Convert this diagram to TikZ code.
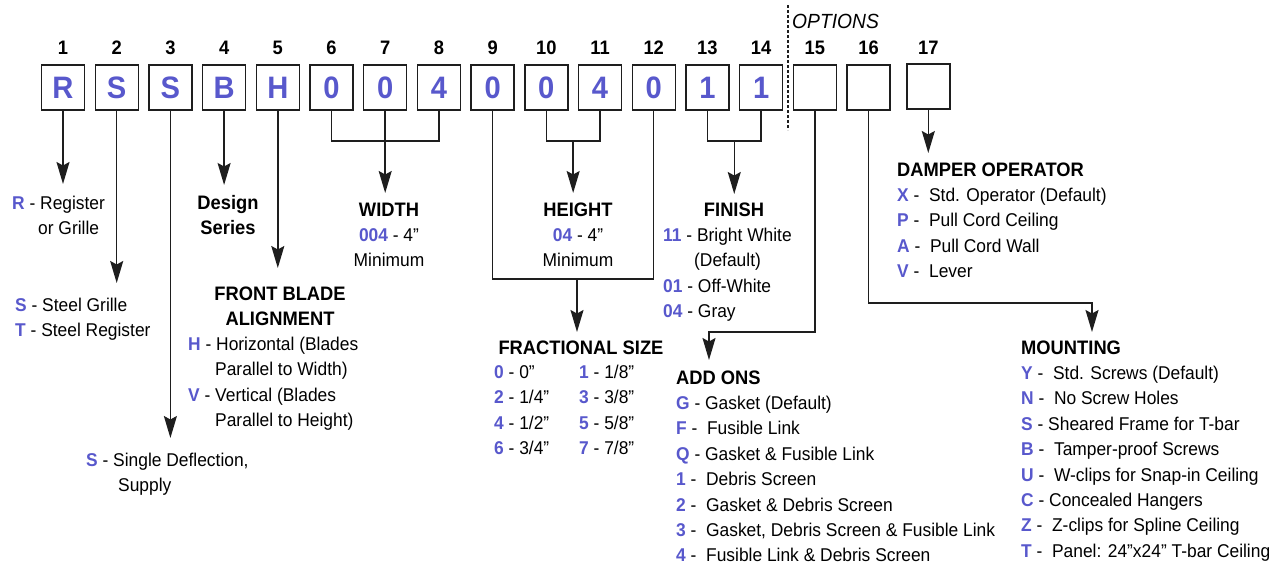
\documentclass[tikz,border=0pt]{standalone}
\usepackage{fontspec}
\setmainfont{Liberation Sans}[FakeStretch=0.94]
\usetikzlibrary{arrows.meta}
\definecolor{cblue}{RGB}{88,88,204}
\definecolor{cline}{RGB}{30,30,30}
\newcommand\bodyf{\fontsize{18.5}{25.4}\selectfont}
\newcommand\headf{\fontsize{19.5}{25.4}\selectfont\bfseries}
\newcommand\kc[1]{\textcolor{cblue}{\textbf{#1}}}
\begin{document}
\begin{tikzpicture}[x=1pt,y=-1pt,
  cbox/.style={draw=cline,line width=1.4pt,minimum width=43pt,minimum height=45pt,inner sep=0pt,
    text=cblue,font=\fontsize{31}{31}\selectfont\bfseries},
  num/.style={anchor=base,inner sep=0pt,font=\fontsize{19.5}{20}\selectfont\bfseries},
  ln/.style={draw=cline,line width=1.5pt},
  arr/.style={ln,-{Stealth[length=22pt,width=13pt,inset=3.5pt]}},
  lst/.style={anchor=base west,inner sep=0pt,font=\bodyf},
  ctr/.style={anchor=base,inner sep=0pt,font=\bodyf}]
\fill[white] (0,0) rectangle (1278,562);
\useasboundingbox (0,0) rectangle (1278,562);

% code boxes
\node[cbox] (b1)  at (63,87.5)    {R};
\node[cbox] (b2)  at (116.7,87.5) {S};
\node[cbox] (b3)  at (170.4,87.5) {S};
\node[cbox] (b4)  at (224.1,87.5) {B};
\node[cbox] (b5)  at (277.8,87.5) {H};
\node[cbox] (b6)  at (331.5,87.5) {0};
\node[cbox] (b7)  at (385.2,87.5) {0};
\node[cbox] (b8)  at (438.9,87.5) {4};
\node[cbox] (b9)  at (492.6,87.5) {0};
\node[cbox] (b10) at (546.3,87.5) {0};
\node[cbox] (b11) at (600,87.5)   {4};
\node[cbox] (b12) at (653.7,87.5) {0};
\node[cbox] (b13) at (707.4,87.5) {1};
\node[cbox] (b14) at (761.1,87.5) {1};
\node[cbox] (b15) at (814.8,87.5) {};
\node[cbox] (b16) at (868.5,87.5) {};
\node[cbox] (b17) at (928.3,86.5) {};

% position numbers
\node[num] (n1)  at (63,54)    {1};
\node[num] (n2)  at (116.7,54) {2};
\node[num] (n3)  at (170.4,54) {3};
\node[num] (n4)  at (224.1,54) {4};
\node[num] (n5)  at (277.8,54) {5};
\node[num] (n6)  at (331.5,54) {6};
\node[num] (n7)  at (385.2,54) {7};
\node[num] (n8)  at (438.9,54) {8};
\node[num] (n9)  at (492.6,54) {9};
\node[num] (n10) at (546.3,54) {10};
\node[num] (n11) at (600,54)   {11};
\node[num] (n12) at (653.7,54) {12};
\node[num] (n13) at (707.4,54) {13};
\node[num] (n14) at (761.1,54) {14};
\node[num] (n15) at (814.8,54) {15};
\node[num] (n16) at (868.5,54) {16};
\node[num] (n17) at (928.3,54) {17};

% options separator
\coordinate (dtop) at (788,5);
\coordinate (dbot) at (788,130);
\draw[cline,line width=1.2pt,dash pattern=on 3pt off 2pt] (dtop) -- (dbot);
\node[anchor=base west,inner sep=0pt,font=\fontsize{20.5}{21}\selectfont\itshape] (opt) at (792,28) {OPTIONS};

% connector coordinates
\coordinate (t1) at (63,184);
\coordinate (t2) at (116.7,283);
\coordinate (t3) at (170.4,438);
\coordinate (t4) at (224.1,185);
\coordinate (t5) at (277.8,268);
\coordinate (j68) at (385.2,141);
\coordinate (t7) at (385.2,193);
\coordinate (j1011) at (573.15,141);
\coordinate (t1011) at (573.15,193);
\coordinate (j912) at (577,279);
\coordinate (t912) at (577,332);
\coordinate (j1314) at (734.25,141);
\coordinate (t1314) at (734.25,194);
\coordinate (c15) at (709,332);
\coordinate (t15) at (709,360);
\coordinate (c16) at (1092,303);
\coordinate (t16) at (1092,332);
\coordinate (t17) at (928.3,153);

% connectors
\draw[arr] (b1.south) -- (t1);
\draw[arr] (b2.south) -- (t2);
\draw[arr] (b3.south) -- (t3);
\draw[arr] (b4.south) -- (t4);
\draw[arr] (b5.south) -- (t5);
\draw[ln] (b6.south) |- (j68) -| (b8.south);
\draw[arr] (b7.south) -- (t7);
\draw[ln] (b10.south) |- (j1011) -| (b11.south);
\draw[arr] (j1011) -- (t1011);
\draw[ln] (b9.south) |- (j912) -| (b12.south);
\draw[arr] (j912) -- (t912);
\draw[ln] (b13.south) |- (j1314) -| (b14.south);
\draw[arr] (j1314) -- (t1314);
\draw[arr] (b15.south) |- (c15) -- (t15);
\draw[arr] (b16.south) |- (c16) -- (t16);
\draw[arr] (b17.south) -- (t17);

% texts
\node[lst] (r1) at (12,209.5) {\begin{tabular}[t]{@{}l@{}}
\kc{R} - Register\\
\hspace*{26pt}or Grille\end{tabular}};

\node[lst] (r2) at (15,311.5) {\begin{tabular}[t]{@{}l@{}}
\kc{S} - Steel Grille\\
\kc{T} - Steel Register\end{tabular}};

\node[lst] (r3) at (86,466.5) {\begin{tabular}[t]{@{}l@{}}
\kc{S} - Single Deflection,\\
\hspace*{32pt}Supply\end{tabular}};

\node[ctr] (r4) at (228,209) {\begin{tabular}[t]{@{}c@{}}
\headf Design\\
\headf Series\end{tabular}};

\node[ctr] (r5h) at (280,300) {\begin{tabular}[t]{@{}c@{}}
\headf FRONT BLADE\\
\headf ALIGNMENT\end{tabular}};

\node[lst] (r5) at (188,350.5) {\begin{tabular}[t]{@{}l@{}}
\kc{H} - Horizontal (Blades\\
\hspace*{27pt}Parallel to Width)\\
\kc{V} - Vertical (Blades\\
\hspace*{27pt}Parallel to Height)\end{tabular}};

\node[ctr] (rw) at (389,216) {\begin{tabular}[t]{@{}c@{}}
\headf WIDTH\\
\kc{004} - 4”\\
Minimum\end{tabular}};

\node[ctr] (rh) at (578,216) {\begin{tabular}[t]{@{}c@{}}
\headf HEIGHT\\
\kc{04} - 4”\\
Minimum\end{tabular}};

\node[ctr] (rfh) at (581,354) {\headf FRACTIONAL SIZE};
\node[lst] (rf) at (494,378.5) {\begin{tabular}[t]{@{}l@{}}
\makebox[85pt][l]{\kc{0} - 0”}\kc{1} - 1/8”\\
\makebox[85pt][l]{\kc{2} - 1/4”}\kc{3} - 3/8”\\
\makebox[85pt][l]{\kc{4} - 1/2”}\kc{5} - 5/8”\\
\makebox[85pt][l]{\kc{6} - 3/4”}\kc{7} - 7/8”\end{tabular}};

\node[ctr] (rfin) at (734,216) {\headf FINISH};
\node[lst] (rfl) at (663,241.5) {\begin{tabular}[t]{@{}l@{}}
\kc{11} - Bright White\\
\hspace*{31pt}(Default)\\
\kc{01} - Off-White\\
\kc{04} - Gray\end{tabular}};

\node[lst] (radd) at (676,384) {\begin{tabular}[t]{@{}l@{}}
\headf ADD ONS\\
\kc{G} - Gasket (Default)\\
\kc{F} -\ \ Fusible Link\\
\kc{Q} - Gasket \& Fusible Link\\
\kc{1} -\ \ Debris Screen\\
\kc{2} -\ \ Gasket \& Debris Screen\\
\kc{3} -\ \ Gasket, Debris Screen \& Fusible Link\\
\kc{4} -\ \ Fusible Link \& Debris Screen\end{tabular}};

\node[lst] (rdmp) at (897,176) {\begin{tabular}[t]{@{}l@{}}
\headf DAMPER OPERATOR\\
\kc{X} -\ \ Std. Operator (Default)\\
\kc{P} -\ \ Pull Cord Ceiling\\
\kc{A} -\ \ Pull Cord Wall\\
\kc{V} -\ \ Lever\end{tabular}};

\node[lst] (rmnt) at (1021,354) {\begin{tabular}[t]{@{}l@{}}
\headf MOUNTING\\
\kc{Y} -\ \ Std. Screws (Default)\\
\kc{N} -\ \ No Screw Holes\\
\kc{S} - Sheared Frame for T-bar\\
\kc{B} -\ \ Tamper-proof Screws\\
\kc{U} -\ \ W-clips for Snap-in Ceiling\\
\kc{C} - Concealed Hangers\\
\kc{Z} -\ \ Z-clips for Spline Ceiling\\
\kc{T} -\ \ Panel: 24”x24” T-bar Ceiling\end{tabular}};
\end{tikzpicture}
\end{document}
